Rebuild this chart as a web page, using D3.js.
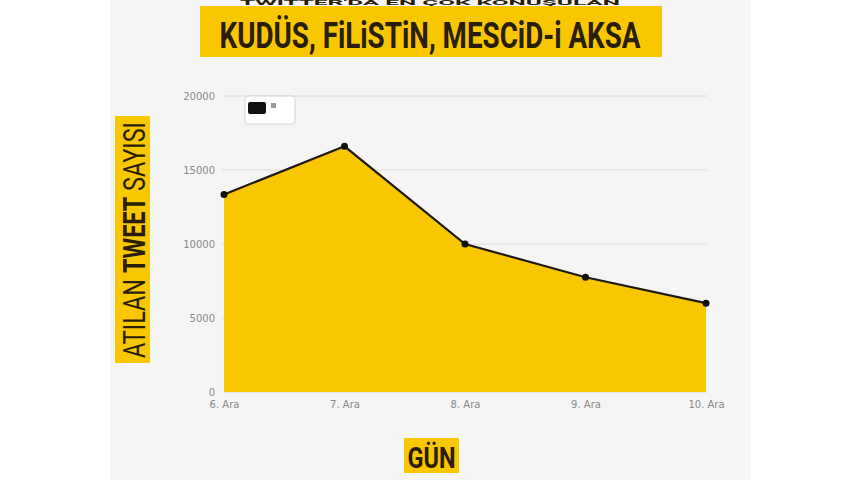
<!DOCTYPE html>
<html><head><meta charset="utf-8">
<script src="https://cdn.jsdelivr.net/npm/d3@7/dist/d3.min.js"></script>
<style>html,body{margin:0;padding:0;background:#fff;}svg{display:block;}</style>
</head><body>
<svg id="c" width="860" height="480"></svg>
<script>
const categories = ["6. Ara", "7. Ara", "8. Ara", "9. Ara", "10. Ara"];
const tweetCounts = [13350, 16600, 10000, 7750, 6000];
const yTicks = [0, 5000, 10000, 15000, 20000];
const titleText = "KUDÜS, FiLiSTiN, MESCiD-i AKSA";
const topText = "TWITTER'DA EN ÇOK KONUŞULAN";
const yTitleParts = ["ATILAN ", "TWEET", " SAYISI"];
const xTitle = "GÜN";

const svg = d3.select("#c");
const gold = "#F9C700";
const ink = "#2a1e08";

// card background
svg.append("rect").attr("x",110).attr("y",0).attr("width",641).attr("height",480).attr("fill","#f5f5f5");

// top line (only a thin strip visible in the reference)
svg.append("text").attr("x",430).attr("y",5).attr("text-anchor","middle")
  .attr("font-family","Roboto").attr("font-weight","bold").attr("font-size",6.5)
  .attr("textLength",380).attr("lengthAdjust","spacingAndGlyphs")
  .attr("fill",ink).text(topText);

// title
svg.append("rect").attr("x",200).attr("y",6).attr("width",462).attr("height",51).attr("fill",gold);
svg.append("text").attr("x",430).attr("y",48).attr("text-anchor","middle")
  .attr("font-family","Roboto").attr("font-weight","bold").attr("font-size",36)
  .attr("textLength",421).attr("lengthAdjust","spacingAndGlyphs")
  .attr("fill",ink).text(titleText);

const x = d3.scalePoint().domain(categories).range([224, 706]);
const y = d3.scaleLinear().domain([0, 20000]).range([392, 96]);

// grid
const grid = svg.append("g");
grid.selectAll("line").data(yTicks).join("line")
  .attr("x1",222).attr("x2",707)
  .attr("y1",d=>y(d)).attr("y2",d=>y(d))
  .attr("stroke","#dcdcdc").attr("stroke-width",1);

// y axis
const yAxis = svg.append("g").attr("transform","translate(222,0)")
  .call(d3.axisLeft(y).tickValues(yTicks).tickSize(0).tickPadding(7).tickFormat(d3.format("d")));
yAxis.select(".domain").remove();
yAxis.selectAll("text").attr("font-family","DejaVu Sans").attr("font-size",10).attr("fill","#8a8a8a");

// x axis
const xAxis = svg.append("g").attr("transform","translate(0,392)")
  .call(d3.axisBottom(x).tickSize(0).tickPadding(9));
xAxis.select(".domain").remove();
xAxis.selectAll("text").attr("font-family","DejaVu Sans").attr("font-size",10).attr("fill","#8a8a8a");

// area
const data = categories.map((c,i)=>({c, v: tweetCounts[i]}));
svg.append("path").datum(data)
  .attr("d", d3.area().x(d=>x(d.c)).y0(y(0)).y1(d=>y(d.v)))
  .attr("fill", gold);
svg.append("path").datum(data)
  .attr("d", d3.line().x(d=>x(d.c)).y(d=>y(d.v)))
  .attr("fill","none").attr("stroke","#1e1a10").attr("stroke-width",2.2);
svg.append("g").selectAll("circle").data(data).join("circle")
  .attr("cx",d=>x(d.c)).attr("cy",d=>y(d.v)).attr("r",3.5).attr("fill","#111");

// legend
const lg = svg.append("g");
lg.append("rect").attr("x",245).attr("y",96).attr("width",50).attr("height",28).attr("rx",3)
  .attr("fill","#fff").attr("stroke","#d4d4d4");
lg.append("rect").attr("x",248).attr("y",102).attr("width",18).attr("height",12).attr("rx",2).attr("fill","#111");
lg.append("rect").attr("x",271).attr("y",103).attr("width",5).attr("height",5).attr("fill","#9a9a9a");

// y title
svg.append("rect").attr("x",115).attr("y",116).attr("width",35).attr("height",247).attr("fill",gold);
const yt = svg.append("text").attr("transform","translate(145,240) rotate(-90)")
  .attr("text-anchor","middle").attr("font-family","Roboto").attr("font-size",31)
  .attr("textLength",236).attr("lengthAdjust","spacingAndGlyphs").attr("fill",ink);
yt.selectAll("tspan").data(yTitleParts).join("tspan")
  .attr("font-weight",(d,i)=>i===1?"bold":"normal").text(d=>d);

// x title
svg.append("rect").attr("x",404).attr("y",438).attr("width",55).attr("height",35).attr("fill",gold);
svg.append("text").attr("x",431.5).attr("y",468).attr("text-anchor","middle")
  .attr("font-family","Roboto").attr("font-weight","bold").attr("font-size",29)
  .attr("textLength",48).attr("lengthAdjust","spacingAndGlyphs").attr("fill",ink).text(xTitle);
</script>
</body></html>
